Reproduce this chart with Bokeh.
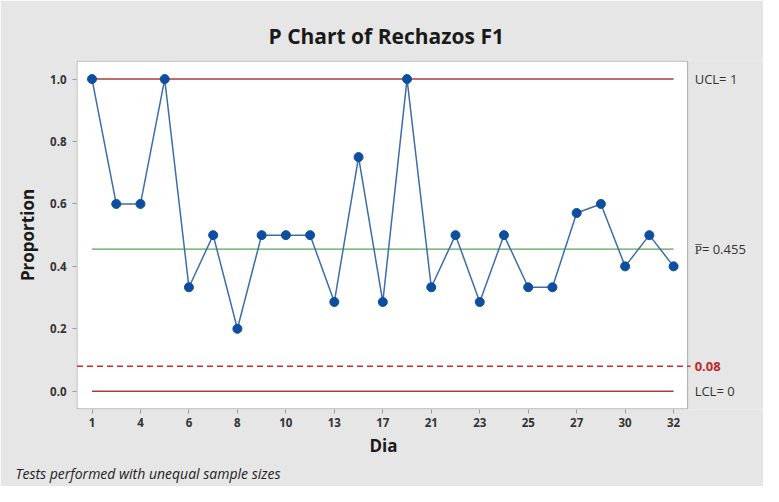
from bokeh.plotting import figure
from bokeh.models import Label, Range1d, FixedTicker, ColumnDataSource, Title
from bokeh.embed import file_html
from bokeh.resources import INLINE

# data
sample = list(range(1, 26))
proportion = [1.0, 0.6, 0.6, 1.0, 0.333, 0.5, 0.2, 0.5, 0.5, 0.5, 0.286, 0.75, 0.286,
              1.0, 0.333, 0.5, 0.286, 0.5, 0.333, 0.333, 0.571, 0.6, 0.4, 0.5, 0.4]
tick_positions = [1, 3, 5, 7, 9, 11, 13, 15, 17, 19, 21, 23, 25]
tick_labels = ["1", "4", "6", "8", "10", "13", "17", "21", "23", "25", "27", "30", "32"]
y_ticks = [0.0, 0.2, 0.4, 0.6, 0.8, 1.0]
ucl = 1.0
pbar = 0.455
lcl = 0.0
ref_line = 0.08

FONT = "Open Sans"
GRAY_BG = "#e6e6e6"

# plot-area extent (data units); the frame extends further right to hold the limit labels
X0, X1 = 0.38, 25.58
Y0, Y1 = -0.0565, 1.0575
PX_PER_X = 24.25
FRAME_W = 763 - 76
x_end = X0 + FRAME_W / PX_PER_X

p = figure(width=763, height=486, output_backend="svg", toolbar_location=None,
           x_range=Range1d(X0 - 0.02, x_end), y_range=Range1d(Y0 - 0.002, Y1 + 0.002),
           min_border_left=76, min_border_right=0, min_border_top=60, min_border_bottom=77)
p.background_fill_color = GRAY_BG
p.border_fill_color = GRAY_BG
p.outline_line_color = None
p.grid.visible = False

# white plot area with grey border
p.quad(left=[X0], right=[X1], bottom=[Y0], top=[Y1], fill_color="white",
       line_color="#a8a8a8", line_width=1)

p.title.text = "P Chart of Rechazos F1"
p.title.align = "left"
p.title.offset = 192
p.title.text_font = FONT
p.title.text_font_size = "21px"
p.title.text_font_style = "bold"
p.title.text_color = "#1a1a1a"
p.title.standoff = 21

# axes
p.xaxis.ticker = FixedTicker(ticks=tick_positions)
p.xaxis.major_label_overrides = {t: l for t, l in zip(tick_positions, tick_labels)}
p.yaxis.ticker = FixedTicker(ticks=y_ticks)
p.yaxis.major_label_overrides = {t: f"{t:.1f}" for t in y_ticks}
for ax in (p.xaxis[0], p.yaxis[0]):
    ax.axis_line_color = None
    ax.major_tick_line_color = "#9a9a9a"
    ax.major_tick_in = 0
    ax.major_tick_out = 4
    ax.minor_tick_line_color = None
    ax.major_label_text_font = FONT
    ax.major_label_text_font_size = "11.5px"
    ax.major_label_text_font_style = "bold"
    ax.major_label_text_color = "#333333"
    ax.axis_label_text_font = FONT
    ax.axis_label_text_font_size = "17px"
    ax.axis_label_text_font_style = "bold"
    ax.axis_label_text_color = "#1a1a1a"
p.yaxis.axis_label = "Proportion"
p.xaxis.major_label_standoff = 4
p.yaxis.major_label_standoff = 6
p.yaxis.axis_label_standoff = 8

# x axis title, centred under the plot area
p.add_layout(Title(text="Dia", align="left", offset=293, standoff=4, text_font=FONT,
                   text_font_size="17px", text_font_style="bold", text_color="#1a1a1a",
                   text_line_height=0.8),
             "below")

# control lines
x_ends = [sample[0], sample[-1]]
p.line(x_ends, [ucl, ucl], line_color="#b03a3a", line_width=1.5)
p.line(x_ends, [lcl, lcl], line_color="#b03a3a", line_width=1.5)
p.line(x_ends, [pbar, pbar], line_color="#5aa05a", line_width=1.2)
p.line([X0, X1 + 0.12], [ref_line, ref_line], line_color="#d9262b",
       line_width=1.5, line_dash="6 4")

src = ColumnDataSource(dict(x=sample, y=proportion))
p.line("x", "y", source=src, line_color="#3b6ea8", line_width=1.5)
p.scatter("x", "y", source=src, size=9, fill_color="#0d4f9e", line_color="#0d4f9e")

# limit labels to the right of the plot area
lx = X1 + 7 / PX_PER_X
for yv, txt, col, style in [(ucl, "UCL= 1", "#333333", "normal"),
                            (pbar, "P\u0305= 0.455", "#333333", "normal"),
                            (ref_line, "0.08", "#c0282d", "bold"),
                            (lcl, "LCL= 0", "#333333", "normal")]:
    p.add_layout(Label(x=lx, y=yv, text=txt, text_font=FONT, text_font_size="13px",
                       text_color=col, text_baseline="middle", text_font_style=style))

p.add_layout(Title(text="Tests performed with unequal sample sizes", align="left",
                   offset=-61, standoff=6, text_font=FONT, text_font_size="14px",
                   text_font_style="italic", text_color="#222222", text_line_height=0.8),
             "below")

open("out.html", "w").write(file_html(p, INLINE))
